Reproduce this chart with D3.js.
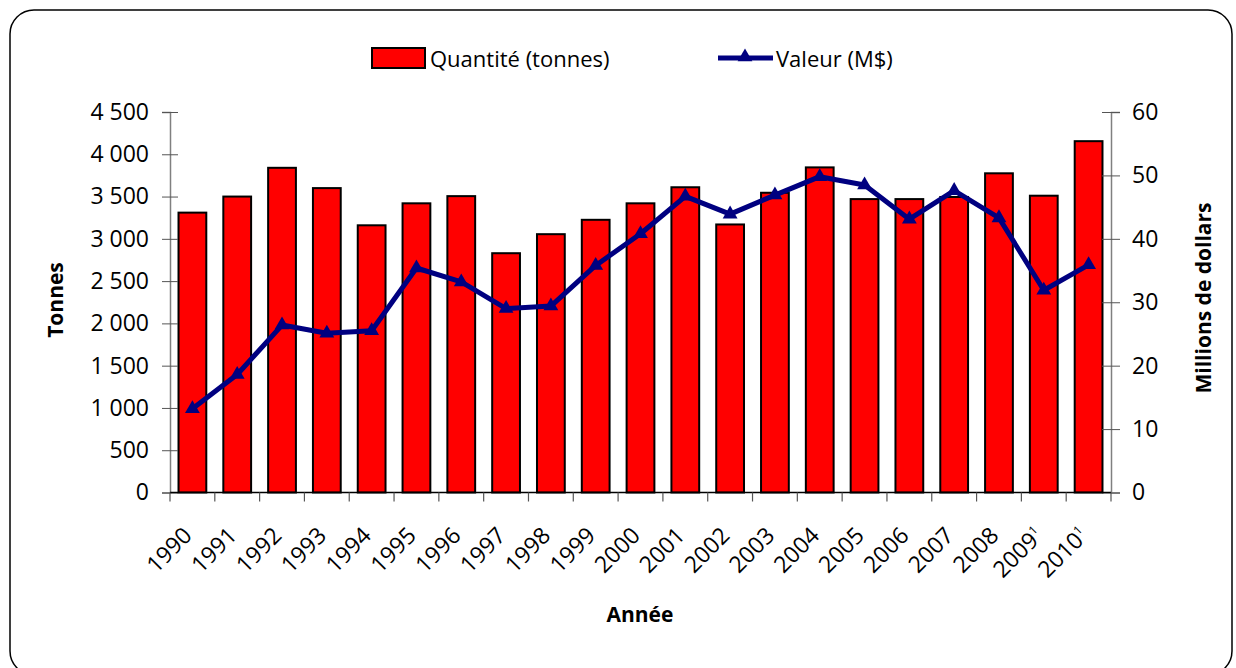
<!DOCTYPE html>
<html>
<head>
<meta charset="utf-8">
<script src="https://cdn.jsdelivr.net/npm/d3@7"></script>
<style>
  body { margin: 0; background: #fff; }
  text { font-family: "Open Sans", "DejaVu Sans Condensed", sans-serif; fill: #000; }
</style>
</head>
<body>
<svg width="1236" height="668"></svg>
<script>
// years; 2009 and 2010 carry a superscript 1
const years = ["1990","1991","1992","1993","1994","1995","1996","1997","1998","1999","2000",
               "2001","2002","2003","2004","2005","2006","2007","2008","2009","2010"];
const provisional = ["2009","2010"];
// Quantité (tonnes)
const tonnes = [3310, 3500, 3840, 3600, 3160, 3420, 3505, 2830, 3055, 3225, 3420,
                3610, 3170, 3545, 3845, 3470, 3470, 3495, 3775, 3510, 4155];
// Valeur (M$)
const valeur = [13.2, 18.6, 26.4, 25.1, 25.5, 35.4, 33.2, 29.0, 29.4, 35.8, 40.8,
                46.7, 43.9, 46.9, 49.8, 48.5, 43.1, 47.6, 43.3, 31.9, 35.9];
const leftTicks = [0, 500, 1000, 1500, 2000, 2500, 3000, 3500, 4000, 4500];
const rightTicks = [0, 10, 20, 30, 40, 50, 60];

let svg = d3.select("svg");

// frame
svg.append("rect")
    .attr("x", 10).attr("y", 10)
    .attr("width", 1222).attr("height", 665)
    .attr("rx", 24).attr("ry", 24)
    .attr("fill", "none").attr("stroke", "#000").attr("stroke-width", 1.5);

let plotL = 170, plotR = 1111, plotT = 112, plotB = 492.5;

let x = d3.scaleBand().domain(years).range([plotL, plotR]).paddingInner(0.38).paddingOuter(0.19);
let yL = d3.scaleLinear().domain([0, 4500]).range([plotB, plotT]);
let yR = d3.scaleLinear().domain([0, 60]).range([plotB, plotT]);

let fmt = d => d3.format(",")(d).replace(/,/g, " ");

// bars
svg.append("g")
    .selectAll("rect")
    .data(years)
    .enter().append("rect")
    .attr("x", d => x(d))
    .attr("y", (d, i) => yL(tonnes[i]))
    .attr("width", x.bandwidth())
    .attr("height", (d, i) => plotB - yL(tonnes[i]))
    .attr("fill", "#ff0000")
    .attr("stroke", "#000")
    .attr("stroke-width", 2);

// left axis
let gL = svg.append("g").attr("transform", `translate(${plotL},0)`)
    .call(d3.axisLeft(yL).tickValues(leftTicks).tickFormat(fmt).tickSize(8).tickPadding(13));
gL.select(".domain").attr("stroke", "#808080").attr("stroke-width", 1.5);
gL.selectAll(".tick line").attr("stroke", "#555").attr("x2", 8).attr("x1", -8);
gL.selectAll(".tick text").style("font-size", "23px");

// right axis
let gR = svg.append("g").attr("transform", `translate(${plotR},0)`)
    .call(d3.axisRight(yR).tickValues(rightTicks).tickSize(9).tickPadding(12));
gR.select(".domain").attr("stroke", "#808080").attr("stroke-width", 1.5);
gR.selectAll(".tick line").attr("stroke", "#555").attr("x1", -9).attr("x2", 9);
gR.selectAll(".tick text").style("font-size", "23px");

// x axis line + ticks between categories
let step = x.step();
let bounds = d3.range(years.length + 1).map(i => plotL + i * step);
svg.append("line")
    .attr("x1", plotL).attr("x2", plotR).attr("y1", plotB).attr("y2", plotB)
    .attr("stroke", "#000").attr("stroke-width", 1.5);
svg.append("g").selectAll("line")
    .data(bounds)
    .enter().append("line")
    .attr("x1", d => d).attr("x2", d => d)
    .attr("y1", plotB).attr("y2", plotB + 9)
    .attr("stroke", "#555").attr("stroke-width", 1.2);

// x labels, rotated
let xl = svg.append("g").selectAll("text")
    .data(years)
    .enter().append("text")
    .attr("text-anchor", "end")
    .attr("transform", d => `translate(${x(d) + x.bandwidth() / 2 + 1},537) rotate(-45)`)
    .style("font-size", "23px");
xl.append("tspan").text(d => d);
xl.filter(d => provisional.includes(d))
    .append("tspan").text("1")
    .attr("dy", -9).style("font-size", "12px");

// line
let line = d3.line()
    .x((d, i) => x(years[i]) + x.bandwidth() / 2)
    .y(d => yR(d));
svg.append("path")
    .datum(valeur)
    .attr("d", line)
    .attr("fill", "none")
    .attr("stroke", "#000080")
    .attr("stroke-width", 5)
    .attr("stroke-linejoin", "round");

let tri = d3.symbol().type(d3.symbolTriangle).size(95);
svg.append("g").selectAll("path")
    .data(valeur)
    .enter().append("path")
    .attr("d", tri)
    .attr("transform", (d, i) => `translate(${x(years[i]) + x.bandwidth() / 2},${yR(d)})`)
    .attr("fill", "#000080");

// legend
svg.append("rect")
    .attr("x", 372).attr("y", 48).attr("width", 53).attr("height", 20)
    .attr("fill", "#ff0000").attr("stroke", "#000").attr("stroke-width", 2);
svg.append("text").attr("x", 430).attr("y", 67).style("font-size", "22px").text("Quantité (tonnes)");
svg.append("line")
    .attr("x1", 718).attr("x2", 773).attr("y1", 58).attr("y2", 58)
    .attr("stroke", "#000080").attr("stroke-width", 5);
svg.append("path").attr("d", tri).attr("transform", "translate(745,57)").attr("fill", "#000080");
svg.append("text").attr("x", 776).attr("y", 67).style("font-size", "22px").text("Valeur (M$)");

// axis titles
svg.append("text")
    .attr("transform", "translate(63,300) rotate(-90)")
    .attr("text-anchor", "middle")
    .style("font-size", "21px").style("font-weight", "bold")
    .text("Tonnes");
svg.append("text")
    .attr("transform", "translate(1211,298) rotate(-90)")
    .attr("text-anchor", "middle")
    .style("font-size", "21px").style("font-weight", "bold")
    .text("Millions de dollars");
svg.append("text")
    .attr("x", 640).attr("y", 622)
    .attr("text-anchor", "middle")
    .style("font-size", "21px").style("font-weight", "bold")
    .text("Année");
</script>
</body>
</html>
